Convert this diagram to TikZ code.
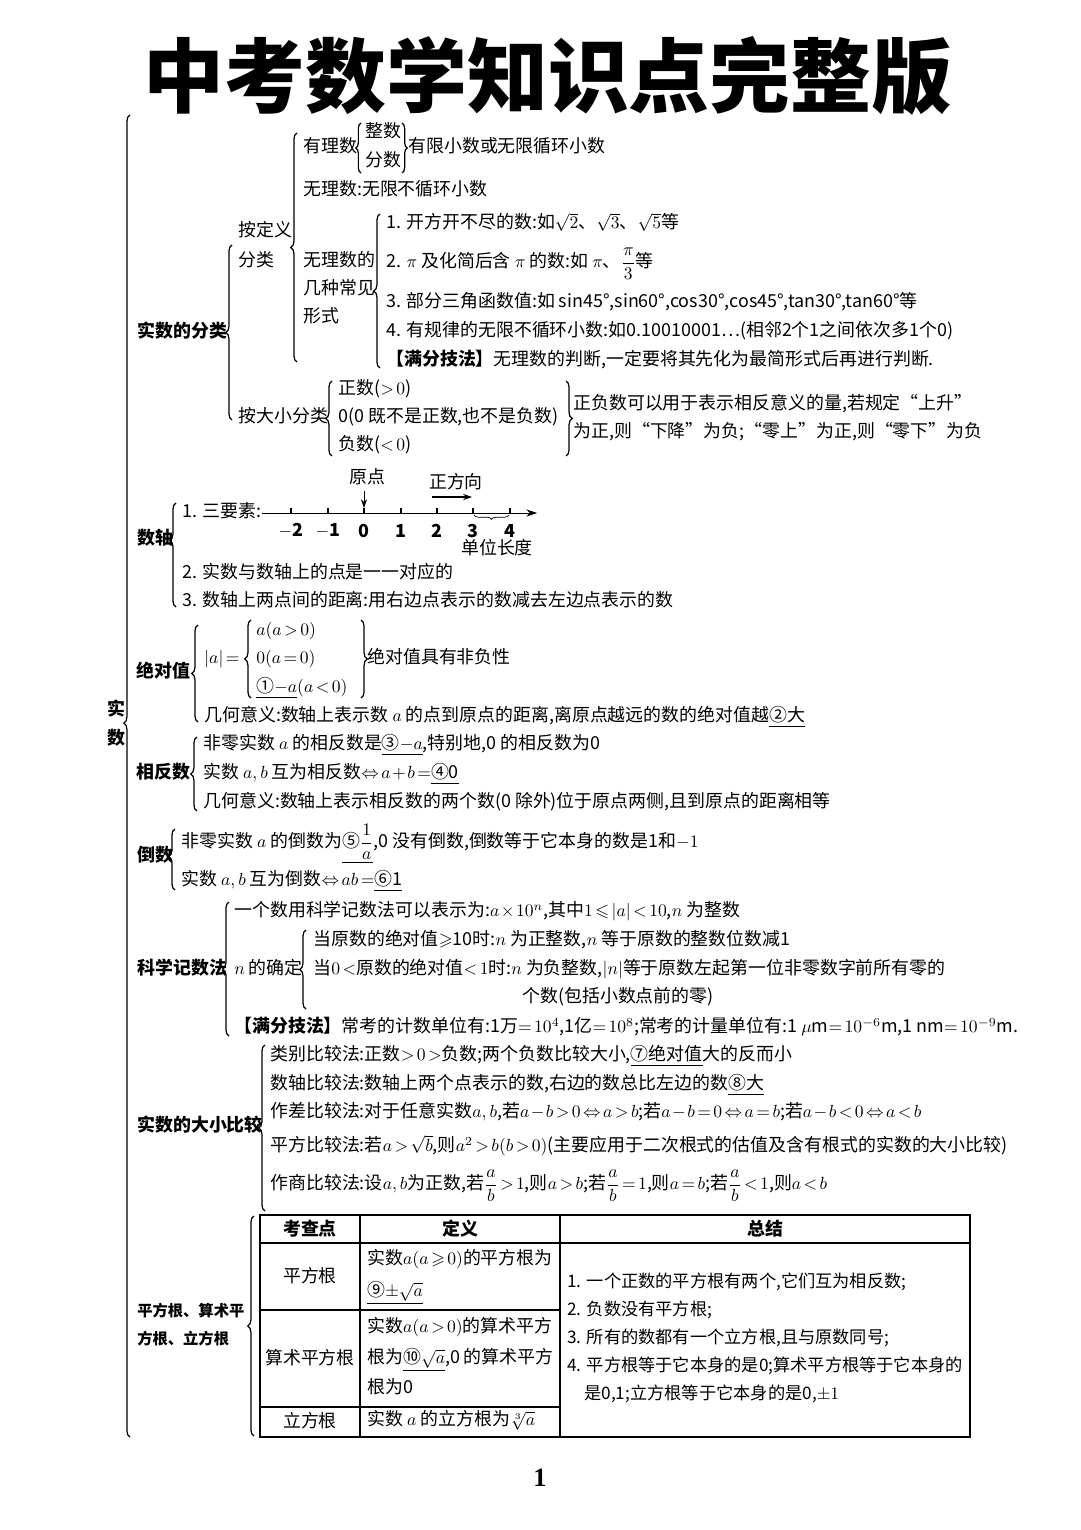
\documentclass[tikz,border=0pt]{standalone}
\usepackage{amsmath,amssymb}
\usepackage{fontspec}
\setmainfont{Noto Sans CJK SC}
\newfontfamily\pgnum{Liberation Serif}
\usetikzlibrary{arrows.meta,decorations.pathreplacing}
\newcommand\ans[1]{\underline{#1}}
\newcommand\bfs{\fontsize{10.2}{13}\selectfont}
\thickmuskip=2.5mu plus 1mu
\medmuskip=1.5mu plus 1mu
\tikzset{
  txt/.style={anchor=west,inner sep=0pt,text height=8pt,text depth=2.5pt},
  hd/.style={txt,font=\bfs\bfseries},
  lb/.style={decorate,decoration={brace,amplitude=3.5pt},line width=.7pt},
  cell/.style={inner sep=0pt},
}
\begin{document}
\begin{tikzpicture}[x=.02cm,y=-.02cm,font=\bfs]
\useasboundingbox (0,0) rectangle (1080,1530);
\fill[white] (0,0) rectangle (1080,1530);
\node[font=\fontsize{46}{50}\selectfont\bfseries] (title) at (548,76) {中考数学知识点完整版};
% whole brace
\node[hd,anchor=center] (shi) at (116,711) {实};
\node[hd,anchor=center] (shu) at (116,740) {数};
\draw[lb,decoration={aspect=.54}] (130,1437) -- (130,115);
% classification
\node[hd] (fenlei) at (137,333) {实数的分类};
\draw[lb] (232,420) -- (232,245);
\node[txt] (dingyi) at (238,232) {按定义};
\node[txt] (dingyib) at (238,262) {分类};
\draw[lb] (297,362) -- (297,133);
\node[txt] (youli) at (303,148) {有理数};
\draw[lb,decoration={amplitude=3pt}] (361,173) -- (361,123);
\node[txt] (zhengshu) at (365,133) {整数};
\node[txt] (fenshu) at (365,162) {分数};
\draw[lb,decoration={amplitude=3pt}] (402,123) -- (402,173);
\node[txt] (youxian) at (408,148) {有限小数或无限循环小数};
\node[txt] (wuli) at (303,191) {无理数:无限不循环小数};
\node[txt] (xingshi) at (303,262) {无理数的};
\node[txt] (xingshib) at (303,290) {几种常见};
\node[txt] (xingshic) at (303,318) {形式};
\draw[lb] (380,368) -- (380,214);
\node[txt] (wl1) at (386,224) {1. 开方开不尽的数:如$\sqrt2$、$\sqrt3$、$\sqrt5$等};
\node[txt] (wl2) at (386,263) {2. $\pi$ 及化简后含 $\pi$ 的数:如 $\pi$、$\dfrac{\pi}{3}$等};
\node[txt] (wl3) at (386,303) {3. 部分三角函数值:如 sin45°,sin60°,cos30°,cos45°,tan30°,tan60°等};
\node[txt] (wl4) at (386,332) {4. 有规律的无限不循环小数:如0.10010001…(相邻2个1之间依次多1个0)};
\node[txt] (jifa) at (386,361) {\textbf{【满分技法】}无理数的判断,一定要将其先化为最简形式后再进行判断.};
\node[txt] (daxiao) at (238,418) {按大小分类};
\draw[lb] (332,456) -- (332,381);
\node[txt] (zheng) at (338,390) {正数($>0$)};
\node[txt] (ling) at (338,418) {0(0 既不是正数,也不是负数)};
\node[txt] (fu) at (338,446) {负数($<0$)};
\draw[lb] (566,381) -- (566,456);
\node[txt] (yiyi) at (573,405) {正负数可以用于表示相反意义的量,若规定“上升”};
\node[txt] (yiyib) at (573,433) {为正,则“下降”为负;“零上”为正,则“零下”为负};
% number line
\node[hd] (shuzhou) at (137,540) {数轴};
\draw[lb,decoration={aspect=.64}] (176,607) -- (176,503);
\node[txt] (sanyao) at (182,513) {1. 三要素:};
\coordinate (nlend) at (537,513);
\draw[-{Stealth[length=6pt,width=4pt]}] (sanyao.east) -- (nlend);
\foreach \v/\x [count=\i] in {-2/291,-1/328,0/364,1/401,2/437,3/473,4/510}{
  \draw[line width=.8pt] (\x,508) -- (\x,513);
  \node[font=\bfs\bfseries] (tk\i) at (\x,531) {$\mathbf{\v}$};
}
\node (yuandian) at (367,477) {原点};
\coordinate (origin) at (364,508);
\draw[-{Stealth[length=5pt,width=3.5pt]}] (yuandian.south -| origin) -- (origin);
\node (zhengfx) at (456,482) {正方向};
\coordinate (pd0) at (432,497);
\coordinate (pd1) at (472,497);
\draw[line width=.8pt,-{Stealth[length=5pt,width=3.5pt]}] (pd0) -- (pd1);
\draw[decorate,decoration={brace,amplitude=2.5pt}] (509,515) -- (474,515);
\node (danwei) at (497,548) {单位长度};
\node[txt] (zhou2) at (182,574) {2. 实数与数轴上的点是一一对应的};
\node[txt] (zhou3) at (182,602) {3. 数轴上两点间的距离:用右边点表示的数减去左边点表示的数};
% absolute value
\node[hd] (jdz) at (136,673) {绝对值};
\draw[lb] (198,722) -- (198,625);
\node[txt] (absa) at (204,659) {$|a| =$};
\draw[lb] (251,698) -- (251,620);
\node[txt] (abs1) at (256,631) {$a(a>0)$};
\node[txt] (abs2) at (256,659) {$0(a=0)$};
\node[txt] (abs3) at (256,688) {\ans{①$-a$}$(a<0)$};
\draw[lb] (361,620) -- (361,698);
\node[txt] (feifu) at (367,659) {绝对值具有非负性};
\node[txt] (jihe) at (204,717) {几何意义:数轴上表示数 $a$ 的点到原点的距离,离原点越远的数的绝对值越\ans{②大}};
% opposite
\node[hd] (xfs) at (136,774) {相反数};
\draw[lb] (197,811) -- (197,737);
\node[txt] (xf1) at (203,745) {非零实数 $a$ 的相反数是\ans{③$-a$},特别地,0 的相反数为0};
\node[txt] (xf2) at (203,774) {实数 $a,b$ 互为相反数$\Leftrightarrow a+b=$\ans{④0}};
\node[txt] (xf3) at (203,803) {几何意义:数轴上表示相反数的两个数(0 除外)位于原点两侧,且到原点的距离相等};
% reciprocal
\node[hd] (ds) at (137,857) {倒数};
\draw[lb,decoration={aspect=.55}] (175,890) -- (175,829);
\node[txt] (ds1) at (181,843) {非零实数 $a$ 的倒数为\ans{⑤$\dfrac{1}{a}$},0 没有倒数,倒数等于它本身的数是1和$-1$};
\node[txt] (ds2) at (181,881) {实数 $a,b$ 互为倒数$\Leftrightarrow ab=$\ans{⑥1}};
% scientific notation
\node[hd] (kx) at (137,970) {科学记数法};
\draw[lb] (229,1036) -- (229,902);
\node[txt] (kx1) at (234,912) {一个数用科学记数法可以表示为:$a\times10^n$,其中$1\leqslant|a|<10$,$n$ 为整数};
\node[txt] (nqd) at (234,970) {$n$ 的确定};
\draw[lb] (306,1009) -- (306,930);
\node[txt] (nq1) at (313,941) {当原数的绝对值$\geqslant$10时:$n$ 为正整数,$n$ 等于原数的整数位数减1};
\node[txt] (nq2) at (313,970) {当$0<$原数的绝对值$<1$时:$n$ 为负整数,$|n|$等于原数左起第一位非零数字前所有零的};
\node[txt] (nq3) at (522,998) {个数(包括小数点前的零)};
\node[txt] (kx2) at (234,1028) {\textbf{【满分技法】}常考的计数单位有:1万$=10^4$,1亿$=10^8$;常考的计量单位有:1 $\mu$m$=10^{-6}$m,1 nm$=10^{-9}$m.};
% comparison
\node[hd] (bj) at (137,1127) {实数的大小比较};
\draw[lb] (265,1211) -- (265,1045);
\node[txt] (bj1) at (270,1056) {类别比较法:正数$>0>$负数;两个负数比较大小,\ans{⑦绝对值}大的反而小};
\node[txt] (bj2) at (270,1085) {数轴比较法:数轴上两个点表示的数,右边的数总比左边的数\ans{⑧大}};
\node[txt] (bj3) at (270,1113) {作差比较法:对于任意实数$a,b$,若$a-b>0\Leftrightarrow a>b$;若$a-b=0\Leftrightarrow a=b$;若$a-b<0\Leftrightarrow a<b$};
\node[txt] (bj4) at (270,1147) {平方比较法:若$a>\sqrt b$,则$a^2>b(b>0)$(主要应用于二次根式的估值及含有根式的实数的大小比较)};
\node[txt] (bj5) at (270,1185) {作商比较法:设$a,b$为正数,若$\dfrac ab>1$,则$a>b$;若$\dfrac ab=1$,则$a=b$;若$\dfrac ab<1$,则$a<b$};
% roots table
\node[txt,font=\fontsize{8.7}{11}\selectfont\bfseries] (gen) at (137,1312) {平方根、算术平};
\node[txt,font=\fontsize{8.7}{11}\selectfont\bfseries] (genb) at (137,1340) {方根、立方根};
\draw[lb] (254,1436) -- (254,1216);
\draw[line width=.8pt] (260,1215) rectangle (970,1437);
\draw[line width=1.5pt] (260,1215) -- (970,1215);
\draw[line width=1.5pt] (260,1437) -- (900,1437);
\draw[line width=.8pt] (260,1243) -- (970,1243) (360,1215) -- (360,1437) (560,1215) -- (560,1437);
\draw[line width=.8pt] (260,1310) -- (560,1310) (260,1407) -- (560,1407);
\node[cell,font=\bfs\bfseries] (kcd) at (310,1229) {考查点};
\node[cell,font=\bfs\bfseries] (dy) at (460,1229) {定义};
\node[cell,font=\bfs\bfseries] (zj) at (765,1229) {总结};
\node[cell] (pfg) at (310,1276) {平方根};
\node[txt] (pfg1) at (367,1260) {实数$a(a\geqslant0)$的平方根为};
\node[txt] (pfg2) at (367,1292) {\ans{⑨$\pm\sqrt a$}};
\node[cell] (sspfg) at (310,1358) {算术平方根};
\node[txt] (ss1) at (367,1328) {实数$a(a>0)$的算术平方};
\node[txt] (ss2) at (367,1359) {根为\ans{⑩$\sqrt a$},0 的算术平方};
\node[txt] (ss3) at (367,1389) {根为0};
\node[cell] (lfg) at (310,1421) {立方根};
\node[txt] (lf1) at (367,1421) {实数 $a$ 的立方根为$\sqrt[3]{a}$};
\node[txt,font=\fontsize{9.8}{12}\selectfont] (zj1) at (567,1283) {1. 一个正数的平方根有两个,它们互为相反数;};
\node[txt,font=\fontsize{9.8}{12}\selectfont] (zj2) at (567,1311) {2. 负数没有平方根;};
\node[txt,font=\fontsize{9.8}{12}\selectfont] (zj3) at (567,1339) {3. 所有的数都有一个立方根,且与原数同号;};
\node[txt,font=\fontsize{9.8}{12}\selectfont] (zj4) at (567,1367) {4. 平方根等于它本身的是0;算术平方根等于它本身的};
\node[txt,font=\fontsize{9.8}{12}\selectfont] (zj5) at (584,1395) {是0,1;立方根等于它本身的是0,$\pm1$};
\node[font=\fontsize{15}{17}\selectfont\pgnum\bfseries] (page) at (540,1478) {1};
\end{tikzpicture}
\end{document}
